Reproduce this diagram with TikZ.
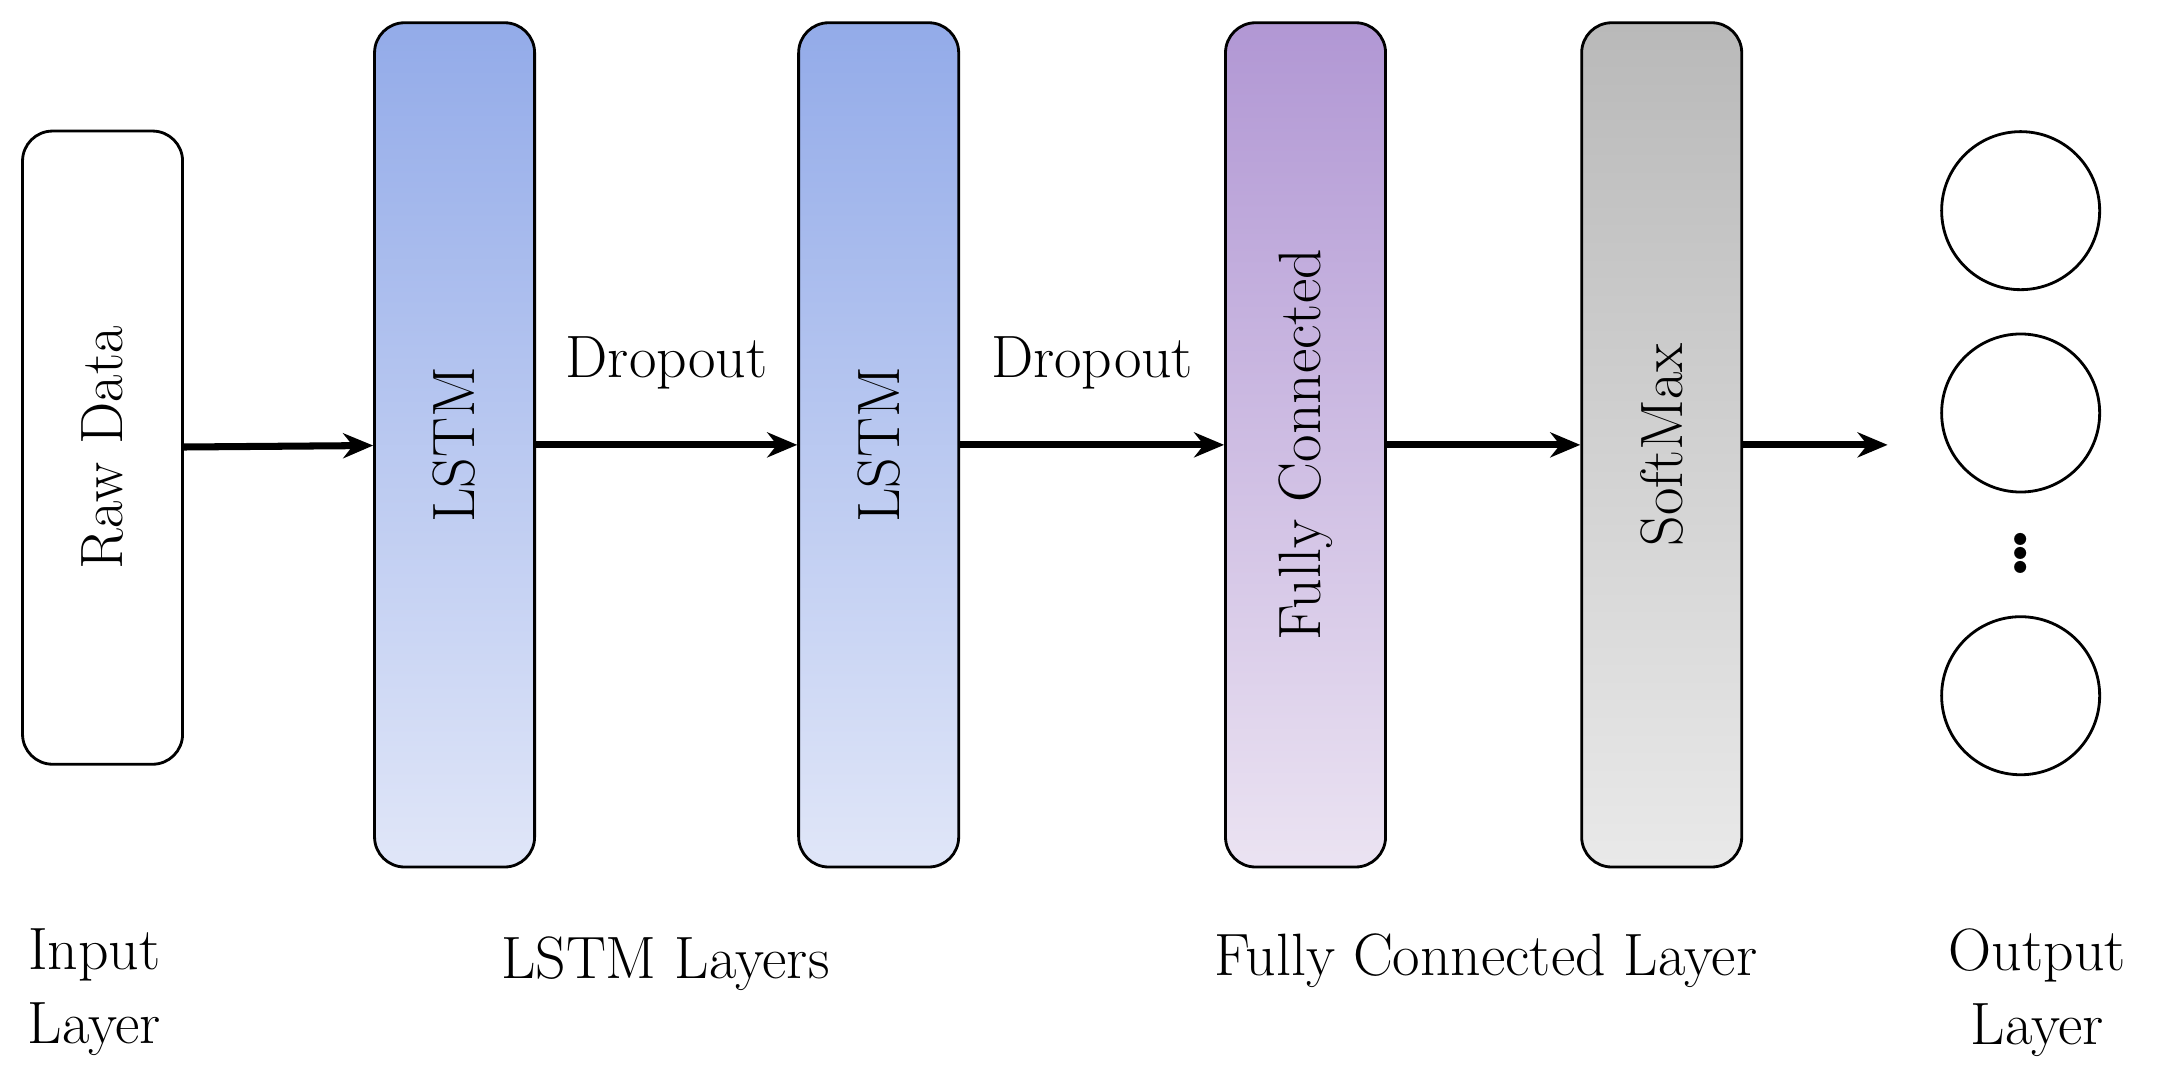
\documentclass[tikz,border=0pt]{standalone}
\usetikzlibrary{positioning,arrows.meta}
\definecolor{lstmtop}{RGB}{147,171,233}
\definecolor{lstmbot}{RGB}{224,230,248}
\definecolor{fctop}{RGB}{177,151,212}
\definecolor{fcbot}{RGB}{235,227,242}
\definecolor{smtop}{RGB}{185,185,185}
\definecolor{smbot}{RGB}{233,233,233}
\begin{document}
\begin{tikzpicture}[x=0.01386cm, y=-0.01386cm,
  every node/.style={font=\fontsize{17}{21}\selectfont},
  layer/.style={rectangle,draw,line width=0.8pt,rounded corners=0.3cm,minimum width=1.6cm,minimum height=8.44cm},
  flow/.style={-{Stealth[length=0.3cm,width=0.25cm]}, line width=2pt}]
  \useasboundingbox (0,0) rectangle (1560,782);
  % Input layer
  \node[layer,minimum height=6.33cm,fill=white] (raw) at (74,323) {\rotatebox{90}{Raw Data}};
  % LSTM layers
  \node[layer,top color=lstmtop,bottom color=lstmbot] (lstm1) at (328,321) {\rotatebox{90}{LSTM}};
  \node[layer,top color=lstmtop,bottom color=lstmbot] (lstm2) at (634,321) {\rotatebox{90}{LSTM}};
  % Fully connected layer
  \node[layer,top color=fctop,bottom color=fcbot] (fc) at (942,321) {\rotatebox{90}{Fully Connected}};
  \node[layer,top color=smtop,bottom color=smbot] (sm) at (1199,321) {\rotatebox{90}{SoftMax}};
  % Output layer
  \foreach \i/\y in {1/152,2/298,3/502} {
    \node[circle,draw,line width=0.8pt,minimum size=1.58cm] (O\i) at (1458,\y) {};
  }
  \node[font=\fontsize{24}{24}\selectfont\bfseries] (dots) at (1458,392) {$\vdots$};
  \coordinate (out) at (1362,321);
  % Connections
  \draw[flow] (raw) -- (lstm1);
  \draw[flow] (lstm1) -- node[above=0.4cm] {Dropout} (lstm2);
  \draw[flow] (lstm2) -- node[above=0.4cm] {Dropout} (fc);
  \draw[flow] (fc) -- (sm);
  \draw[flow] (sm) -- (out);
  % Captions
  \node[align=center] (capin) at (68,716) {Input\\Layer};
  \node (caplstm) at (480,695) {LSTM Layers};
  \node (capfc) at (1072,693) {Fully Connected Layer};
  \node[align=center] (capout) at (1470,716) {Output\\Layer};
\end{tikzpicture}
\end{document}
